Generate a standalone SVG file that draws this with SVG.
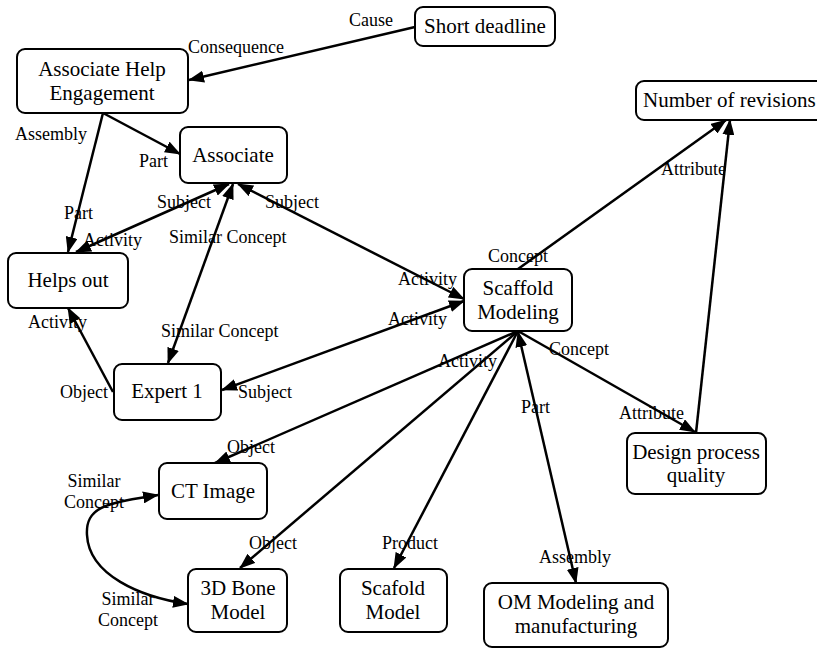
<svg xmlns="http://www.w3.org/2000/svg" width="817" height="649" viewBox="0 0 817 649">
  <style>
    .box { fill: #fff; stroke: #000; stroke-width: 2; }
    text { font-family: 'Liberation Serif', 'Times New Roman', Times, 'DejaVu Serif', serif; fill: #000; }
    .nt { font-size: 21px; text-anchor: middle; }
    .ns { font-size: 21px; text-anchor: start; }
    .lb { font-size: 18px; }
    .lc { font-size: 18px; text-anchor: middle; }
    .e { fill: none; stroke: #000; stroke-width: 2.5; }
    .a1 { marker-end: url(#ah); }
    .a2 { marker-start: url(#ah); marker-end: url(#ah); }
  </style>
  <defs>
    <marker id="ah" viewBox="0 0 16 12" refX="15" refY="6" markerWidth="16" markerHeight="12" orient="auto-start-reverse" markerUnits="userSpaceOnUse">
      <path d="M0,0 L16,6 L0,12 z" fill="#000"/>
    </marker>
  </defs>
  <rect width="817" height="649" fill="#fff"/>

  <!-- connectors -->
  <g id="connectors">
    <line class="e a1" x1="415" y1="27" x2="189" y2="80"/>
    <line class="e a1" x1="103" y1="113" x2="180" y2="154"/>
    <line class="e a1" x1="103" y1="113" x2="68" y2="252"/>
    <line class="e a2" x1="76" y1="252" x2="229" y2="184"/>
    <line class="e a2" x1="233" y1="184" x2="168" y2="363"/>
    <line class="e a2" x1="238" y1="184" x2="464" y2="299"/>
    <line class="e a2" x1="222" y1="390" x2="464" y2="301"/>
    <line class="e a1" x1="113" y1="392" x2="68" y2="308"/>
    <line class="e a1" x1="518" y1="269" x2="726" y2="120"/>
    <line class="e a1" x1="696" y1="433" x2="730" y2="120"/>
    <line class="e a1" x1="518" y1="331" x2="695" y2="432"/>
    <line class="e a1" x1="518" y1="331" x2="215" y2="463"/>
    <line class="e a1" x1="518" y1="331" x2="240" y2="568"/>
    <line class="e a1" x1="518" y1="331" x2="394" y2="568"/>
    <line class="e a2" x1="576" y1="583" x2="518" y2="332"/>
    <path class="e a2" d="M158,495 C110,503 85,505 87,535 C89,575 140,597 188,604"/>

    <text class="lb" x="349" y="26">Cause</text>
    <text class="lb" x="188" y="53">Consequence</text>
    <text class="lb" x="15" y="140">Assembly</text>
    <text class="lb" x="139" y="167">Part</text>
    <text class="lb" x="157" y="208">Subject</text>
    <text class="lb" x="265" y="208">Subject</text>
    <text class="lb" x="64" y="219">Part</text>
    <text class="lb" x="83" y="246">Activity</text>
    <text class="lb" x="169" y="243">Similar Concept</text>
    <text class="lb" x="161" y="337">Similar Concept</text>
    <text class="lb" x="28" y="328">Activity</text>
    <text class="lb" x="60" y="398">Object</text>
    <text class="lb" x="238" y="398">Subject</text>
    <text class="lb" x="398" y="285">Activity</text>
    <text class="lb" x="388" y="325">Activity</text>
    <text class="lb" x="438" y="367">Activity</text>
    <text class="lb" x="488" y="262">Concept</text>
    <text class="lb" x="549" y="355">Concept</text>
    <text class="lb" x="521" y="413">Part</text>
    <text class="lb" x="619" y="419">Attribute</text>
    <text class="lb" x="661" y="175">Attribute</text>
    <text class="lb" x="227" y="453">Object</text>
    <text class="lb" x="249" y="549">Object</text>
    <text class="lb" x="382" y="549">Product</text>
    <text class="lb" x="539" y="563">Assembly</text>
    <text class="lc" x="94" y="487">Similar</text>
    <text class="lc" x="94" y="508">Concept</text>
    <text class="lc" x="128" y="605">Similar</text>
    <text class="lc" x="128" y="626">Concept</text>
  </g>

  <!-- nodes -->
  <g id="short-deadline">
    <rect class="box" x="415" y="7" width="140" height="39" rx="8"/>
    <text class="nt" x="485" y="33">Short deadline</text>
  </g>
  <g id="associate-help-engagement">
    <rect class="box" x="17" y="49" width="171" height="64" rx="8"/>
    <text class="nt" x="102" y="76">Associate Help</text>
    <text class="nt" x="102" y="100">Engagement</text>
  </g>
  <g id="associate">
    <rect class="box" x="180" y="127" width="107" height="56" rx="8"/>
    <text class="nt" x="233" y="162">Associate</text>
  </g>
  <g id="number-of-revisions">
    <rect class="box" x="636" y="81" width="200" height="39" rx="8"/>
    <text class="ns" x="643" y="107">Number of revisions</text>
  </g>
  <g id="helps-out">
    <rect class="box" x="8" y="253" width="120" height="55" rx="8"/>
    <text class="nt" x="68" y="287">Helps out</text>
  </g>
  <g id="expert-1">
    <rect class="box" x="114" y="364" width="107" height="56" rx="8"/>
    <text class="nt" x="167" y="398">Expert 1</text>
  </g>
  <g id="scaffold-modeling">
    <rect class="box" x="464" y="269" width="108" height="62" rx="8"/>
    <text class="nt" x="518" y="295">Scaffold</text>
    <text class="nt" x="518" y="319">Modeling</text>
  </g>
  <g id="design-process-quality">
    <rect class="box" x="627" y="433" width="139" height="61" rx="8"/>
    <text class="nt" x="696" y="459">Design process</text>
    <text class="nt" x="696" y="482">quality</text>
  </g>
  <g id="ct-image">
    <rect class="box" x="159" y="463" width="108" height="56" rx="8"/>
    <text class="nt" x="213" y="498">CT Image</text>
  </g>
  <g id="bone-model-3d">
    <rect class="box" x="188" y="569" width="99" height="63" rx="8"/>
    <text class="nt" x="238" y="595">3D Bone</text>
    <text class="nt" x="238" y="619">Model</text>
  </g>
  <g id="scafold-model">
    <rect class="box" x="340" y="569" width="107" height="63" rx="8"/>
    <text class="nt" x="393" y="595">Scafold</text>
    <text class="nt" x="393" y="619">Model</text>
  </g>
  <g id="om-modeling">
    <rect class="box" x="484" y="583" width="184" height="64" rx="8"/>
    <text class="nt" x="576" y="609">OM Modeling and</text>
    <text class="nt" x="576" y="633">manufacturing</text>
  </g>
</svg>
